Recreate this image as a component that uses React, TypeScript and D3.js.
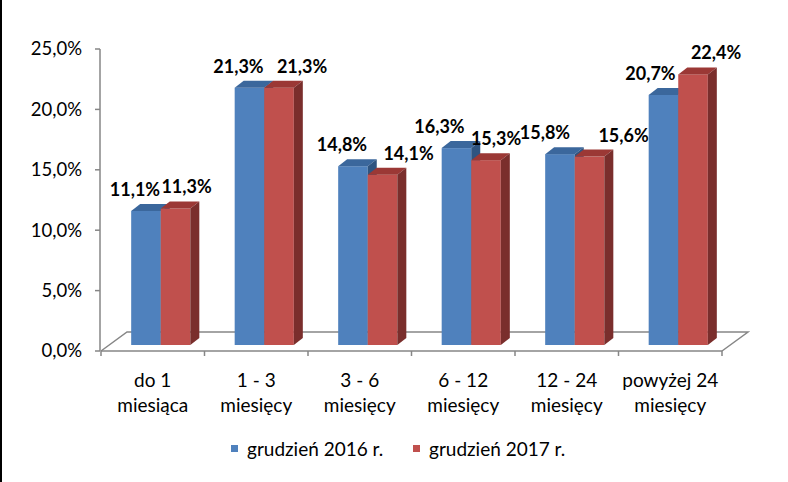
import React from "react";
import * as d3 from "d3";

const categories: string[][] = [
  ["do 1", "miesiąca"],
  ["1 - 3", "miesięcy"],
  ["3 - 6", "miesięcy"],
  ["6 - 12", "miesięcy"],
  ["12 - 24", "miesięcy"],
  ["powyżej 24", "miesięcy"],
];
const seriesNames = ["grudzień 2016 r.", "grudzień 2017 r."];
const values2016 = [11.1, 21.3, 14.8, 16.3, 15.8, 20.7];
const values2017 = [11.3, 21.3, 14.1, 15.3, 15.6, 22.4];
const yTicks = [0, 5, 10, 15, 20, 25];

// label nudges (layout only)
const labelNudge = [
  [-11, -11, -11, -17, -15, -13],
  [11, 23, 26, 10, 34, 23],
];

const W = 788;
const H = 482;
const FONT = "Lato, 'Open Sans', sans-serif";

const colors = [
  { front: "#4f81bd", top: "#3b679c", side: "#2f5480" },
  { front: "#c0504d", top: "#9b3835", side: "#7a2e2c" },
];

export default function App() {
  const y = d3.scaleLinear().domain([0, 25]).range([351, 49]);
  const x = d3
    .scaleBand<number>()
    .domain(categories.map((_, i) => i))
    .range([101, 722])
    .paddingInner(0)
    .paddingOuter(0);
  const bw = x.bandwidth() / 3.5;
  const shiftX = 8;
  const shiftY = -6;
  const dX = 9;
  const dY = 7;
  const series = [values2016, values2017];
  const fmt = (v: number) => v.toFixed(1).replace(".", ",") + "%";

  const bars: React.ReactNode[] = [];
  const labels: React.ReactNode[] = [];
  categories.forEach((_, i) => {
    series.forEach((vals, s) => {
      const v = vals[i];
      const x0 = (x(i) as number) + 0.75 * bw + s * bw + shiftX;
      const yt = y(v) + shiftY;
      const yb = y(0) + shiftY;
      const c = colors[s];
      bars.push(
        <g key={`b${i}-${s}`}>
          <rect x={x0} y={yt} width={bw} height={yb - yt} fill={c.front} />
          <polygon
            points={`${x0},${yt} ${x0 + dX},${yt - dY} ${x0 + bw + dX},${yt - dY} ${x0 + bw},${yt}`}
            fill={c.top}
          />
          <polygon
            points={`${x0 + bw},${yt} ${x0 + bw + dX},${yt - dY} ${x0 + bw + dX},${yb - dY} ${x0 + bw},${yb}`}
            fill={c.side}
          />
        </g>
      );
      labels.push(
        <text
          key={`l${i}-${s}`}
          x={x0 + bw / 2 + labelNudge[s][i]}
          y={yt - 15}
          textAnchor="middle"
          fontFamily={FONT}
          fontWeight="bold"
          fontSize={18}
          fill="#000"
        >
          {fmt(v)}
        </text>
      );
    });
  });

  const axisColor = "#868686";
  const fx0 = 101, fx1 = 722, fy = 351, bdx = 26, bdy = 19;

  return (
    <svg
      width={W}
      height={H}
      style={{ position: "fixed", left: 0, top: 0, background: "#fff" }}
    >
      <rect x={0} y={0} width={W} height={H} fill="#fff" />
      <line x1={1} y1={0} x2={1} y2={H} stroke="#000" strokeWidth={2} />
      {/* floor */}
      <polyline
        points={`${fx0},${fy} ${fx0 + bdx},${fy - bdy} ${fx1 + bdx},${fy - bdy} ${fx1},${fy}`}
        fill="none"
        stroke={axisColor}
        strokeWidth={1.5}
      />
      <line x1={fx0} y1={fy} x2={fx1} y2={fy} stroke={axisColor} strokeWidth={1.5} />
      {/* y axis */}
      <line x1={100} y1={y(25)} x2={100} y2={y(0)} stroke={axisColor} strokeWidth={1.5} />
      {yTicks.map((t) => (
        <g key={t}>
          <line x1={95} y1={y(t)} x2={100} y2={y(t)} stroke={axisColor} strokeWidth={1.5} />
          <text
            x={82}
            y={y(t)}
            dy="0.35em"
            textAnchor="end"
            fontFamily={FONT}
            fontSize={18.5}
            fill="#000"
          >
            {t.toFixed(1).replace(".", ",") + "%"}
          </text>
        </g>
      ))}
      {/* category ticks */}
      {categories.map((_, i) => (
        <line
          key={`ct${i}`}
          x1={x(i) as number}
          y1={fy}
          x2={x(i) as number}
          y2={fy + 5}
          stroke={axisColor}
          strokeWidth={1.5}
        />
      ))}
      <line x1={fx1} y1={fy} x2={fx1} y2={fy + 5} stroke={axisColor} strokeWidth={1.5} />
      {bars}
      {labels}
      {categories.map((lines, i) => (
        <text
          key={`cl${i}`}
          textAnchor="middle"
          fontFamily={FONT}
          fontSize={19}
          fill="#000"
        >
          {lines.map((ln, k) => (
            <tspan key={k} x={(x(i) as number) + x.bandwidth() / 2} y={387 + k * 25}>
              {ln}
            </tspan>
          ))}
        </text>
      ))}
      {/* legend */}
      {seriesNames.map((n, s) => {
        const lx = s === 0 ? 231 : 413;
        return (
          <g key={n}>
            <rect x={lx} y={445} width={7} height={7} fill={colors[s].front} />
            <text x={lx + 16} y={456} fontFamily={FONT} fontSize={19} fill="#000">
              {n}
            </text>
          </g>
        );
      })}
    </svg>
  );
}
